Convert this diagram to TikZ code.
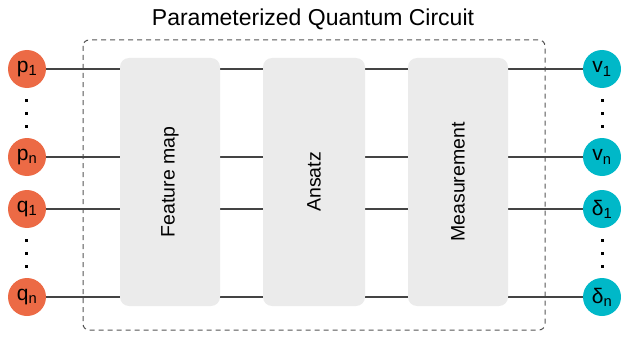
\documentclass[tikz,border=0pt]{standalone}
\usepackage{fontspec}
\setmainfont{Liberation Sans}
\begin{document}
\begin{tikzpicture}[x=1pt,y=-1pt,
  inp/.style={circle,fill=inorange,minimum size=38pt,inner sep=0pt,font=\fontsize{21}{21}\selectfont},
  outp/.style={circle,fill=outteal,minimum size=38pt,inner sep=0pt,font=\fontsize{21}{21}\selectfont},
  block/.style={fill=blockgray,rounded corners=9pt,inner sep=0pt},
  blocklabel/.style={rotate=90,font=\fontsize{19.5}{19.5}\selectfont},
  wire/.style={draw=wiregray,line width=1.1pt},
  dotm/.style={rectangle,fill=black,inner sep=0pt,minimum size=3pt}]
\definecolor{inorange}{HTML}{EC6A45}
\definecolor{outteal}{HTML}{00B8C8}
\definecolor{blockgray}{HTML}{EBEBEB}
\definecolor{wiregray}{HTML}{444444}
\definecolor{boxgray}{HTML}{555555}
\useasboundingbox (0,0) rectangle (621,337);
% title
\node[font=\fontsize{23}{23}\selectfont] (title) at (313,19) {Parameterized Quantum Circuit};
% dashed frame
\draw[boxgray,line width=1pt,dash pattern=on 5pt off 4pt,rounded corners=6pt] (83,40) rectangle (545,330);
% input / output nodes
\node[inp] (p1) at (27,69) {p\textsubscript{1}};
\node[inp] (pn) at (27,157) {p\textsubscript{n}};
\node[inp] (q1) at (27,209) {q\textsubscript{1}};
\node[inp] (qn) at (27,297) {q\textsubscript{n}};
\node[outp] (v1) at (602,69) {v\textsubscript{1}};
\node[outp] (vn) at (602,157) {v\textsubscript{n}};
\node[outp] (d1) at (602,209) {δ\textsubscript{1}};
\node[outp] (dn) at (602,297) {δ\textsubscript{n}};
% wires
\draw[wire] (p1) -- (v1);
\draw[wire] (pn) -- (vn);
\draw[wire] (q1) -- (d1);
\draw[wire] (qn) -- (dn);
% blocks
\node[block,minimum width=100pt,minimum height=248pt] (fm) at (170,182) {};
\node[block,minimum width=102pt,minimum height=248pt] (an) at (314,182) {};
\node[block,minimum width=100pt,minimum height=248pt] (me) at (458,182) {};
\node[blocklabel] (fml) at (fm.center) {Feature map};
\node[blocklabel] (anl) at (an.center) {Ansatz};
\node[blocklabel] (mel) at (me.center) {Measurement};
% dots
\foreach \x/\n in {26/l,602/r}{
  \foreach \y/\m in {100/a,113/b,126/c,240/d,253/e,266/f}{
    \node[dotm] (dot\n\m) at (\x,\y) {};
  }
}
\end{tikzpicture}
\end{document}
